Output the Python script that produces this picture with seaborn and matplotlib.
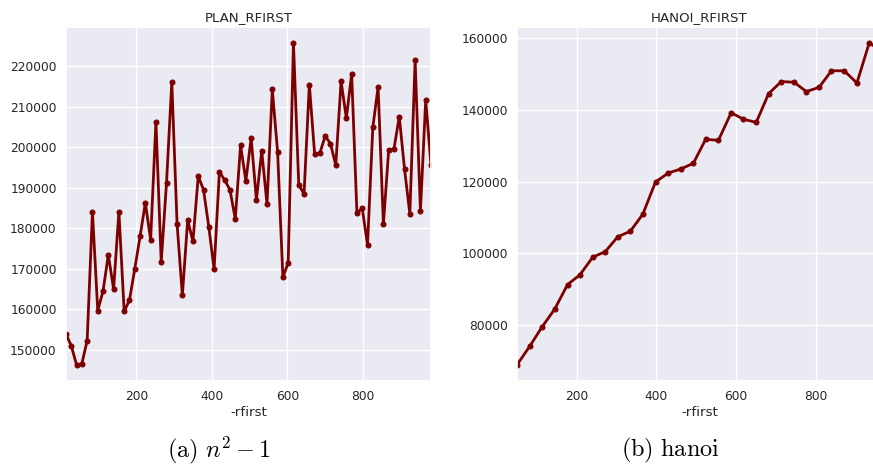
import numpy as np
import pandas as pd
import matplotlib
matplotlib.use("Agg")
import matplotlib.pyplot as plt
import seaborn as sns

# ---- data: PLAN_RFIRST ----
plan_x = [14, 28, 42, 56, 70, 84, 98, 112, 126, 140,
          154, 168, 182, 196, 210, 224, 238, 252, 266, 280,
          294, 308, 322, 336, 350, 364, 378, 392, 406, 420,
          434, 448, 462, 476, 490, 504, 518, 532, 546, 560,
          574, 588, 602, 616, 630, 644, 658, 672, 686, 700,
          714, 728, 742, 756, 770, 784, 798, 812, 826, 840,
          854, 868, 882, 896, 910, 924, 938, 952, 966, 980]
plan_y = [153900, 151000, 146300, 146600, 152300, 184100, 159700, 164500, 173500, 165000,
          184100, 159500, 162300, 170000, 178000, 186300, 177200, 206300, 171700, 191200,
          216100, 181000, 163500, 182000, 176800, 192900, 189500, 180300, 169900, 194000,
          191900, 189500, 182300, 200500, 191700, 202300, 187000, 199100, 186000, 214300,
          198900, 167900, 171500, 225800, 190700, 188500, 215500, 198400, 198600, 202800,
          200900, 195600, 216300, 207200, 218100, 183700, 185000, 175900, 204900, 214900,
          181000, 199300, 199600, 207600, 194600, 183600, 221500, 184200, 211700, 195600]

# ---- data: HANOI_RFIRST ----
hanoi_x = [50, 82, 113, 145, 177, 208, 240, 272, 303, 335,
           366, 398, 430, 461, 493, 524, 556, 588, 619, 651,
           682, 714, 746, 777, 809, 840, 872, 904, 935, 967]
hanoi_y = [68900, 74100, 79500, 84500, 91300, 94000, 98900, 100500, 104600, 106200,
           110900, 119900, 122400, 123500, 125100, 131800, 131500, 139200, 137400, 136500,
           144500, 147900, 147700, 145100, 146300, 150900, 150900, 147500, 158700, 156300]

titles = ["PLAN_RFIRST", "HANOI_RFIRST"]
xlabel = "-rfirst"
xticks = [200, 400, 600, 800]
captions = [r"$\mathrm{(a)}\ n^2-1$", r"$\mathrm{(b)\ hanoi}$"]

sns.set_theme(style="darkgrid", font_scale=0.8)
plt.rcParams["font.family"] = ["DejaVu Sans"]
plt.rcParams["mathtext.fontset"] = "cm"

W, H = 873, 467
fig = plt.figure(figsize=(W / 100, H / 100), dpi=100)

AX_TOP, AX_BOT = 26.7, 381.0

def box(l, t, r, b):
    return [l / W, 1 - b / H, (r - l) / W, (b - t) / H]

ax1 = fig.add_axes(box(66, AX_TOP, 431, AX_BOT))
ax2 = fig.add_axes(box(517, AX_TOP, 882, AX_BOT))

line_color = "#7d0000"
for ax, xs, ys, title in [(ax1, plan_x, plan_y, titles[0]),
                          (ax2, hanoi_x, hanoi_y, titles[1])]:
    df = pd.DataFrame({"x": xs, "y": ys})
    sns.lineplot(data=df, x="x", y="y", ax=ax, color=line_color, marker="o",
                 markersize=3.6, markeredgecolor=line_color, linewidth=2)
    ax.set_xlim(min(xs), max(xs))
    ax.set_title(title, pad=3.8)
    ax.set_xlabel(xlabel)
    ax.set_ylabel("")
    ax.set_xticks(xticks)
    ax.tick_params(axis="x", length=0, pad=6.2)
    ax.tick_params(axis="y", length=0, pad=6.7)
    ax.xaxis.set_label_coords(0.5, -(406.0 - AX_BOT) / (AX_BOT - AX_TOP))

fig.text(219 / W, 1 - 450 / H, captions[0], ha="center", va="center",
         fontsize=17.5, color="black")
fig.text(670.5 / W, 1 - 450 / H, captions[1], ha="center", va="center",
         fontsize=17.5, color="black")

fig.savefig("out.png", dpi=100)
